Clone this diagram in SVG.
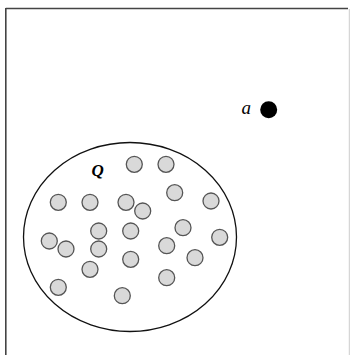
<svg xmlns="http://www.w3.org/2000/svg" width="350" height="355" viewBox="0 0 350 355">
<style>
.pt{fill:#d9d9d9;stroke:#555;stroke-width:1.3}
.lbl{font-family:"Liberation Serif","DejaVu Serif",serif;font-style:italic}
</style>
<rect x="0" y="0" width="350" height="355" fill="#fff"/>
<line x1="5.8" y1="8.5" x2="348" y2="8.5" stroke="#444" stroke-width="1.5"/>
<line x1="5.8" y1="8" x2="5.8" y2="355" stroke="#444" stroke-width="1.6"/>
<line x1="349.3" y1="9" x2="349.3" y2="355" stroke="#ccc" stroke-width="1"/>
<g id="Q">
<ellipse cx="130" cy="237" rx="106.5" ry="94.5" fill="none" stroke="#111" stroke-width="1.3"/>
<text class="lbl" x="91.5" y="176" font-size="17" font-weight="bold">Q</text>
</g>
<g id="points">
<circle class="pt" cx="58.3" cy="202.3" r="8"/>
<circle class="pt" cx="90" cy="202.3" r="8"/>
<circle class="pt" cx="126" cy="202.3" r="8"/>
<circle class="pt" cx="142.7" cy="211" r="8"/>
<circle class="pt" cx="134.3" cy="164.3" r="8"/>
<circle class="pt" cx="166" cy="164.3" r="8"/>
<circle class="pt" cx="174.7" cy="192.7" r="8"/>
<circle class="pt" cx="211" cy="201" r="8"/>
<circle class="pt" cx="98.7" cy="231" r="8"/>
<circle class="pt" cx="130.7" cy="231" r="8"/>
<circle class="pt" cx="183" cy="227.7" r="8"/>
<circle class="pt" cx="49.3" cy="241" r="8"/>
<circle class="pt" cx="66" cy="249" r="8"/>
<circle class="pt" cx="98.7" cy="249" r="8"/>
<circle class="pt" cx="166.7" cy="245.7" r="8"/>
<circle class="pt" cx="219.7" cy="237.3" r="8"/>
<circle class="pt" cx="130.7" cy="259.3" r="8"/>
<circle class="pt" cx="195" cy="257.7" r="8"/>
<circle class="pt" cx="90" cy="269.3" r="8"/>
<circle class="pt" cx="166.7" cy="277.7" r="8"/>
<circle class="pt" cx="58.3" cy="287.3" r="8"/>
<circle class="pt" cx="122.3" cy="295.7" r="8"/>
</g>
<g id="a">
<text class="lbl" x="241.5" y="113.5" font-size="19">a</text>
<circle cx="268.7" cy="109.7" r="8.5" fill="#000"/>
</g>
</svg>
